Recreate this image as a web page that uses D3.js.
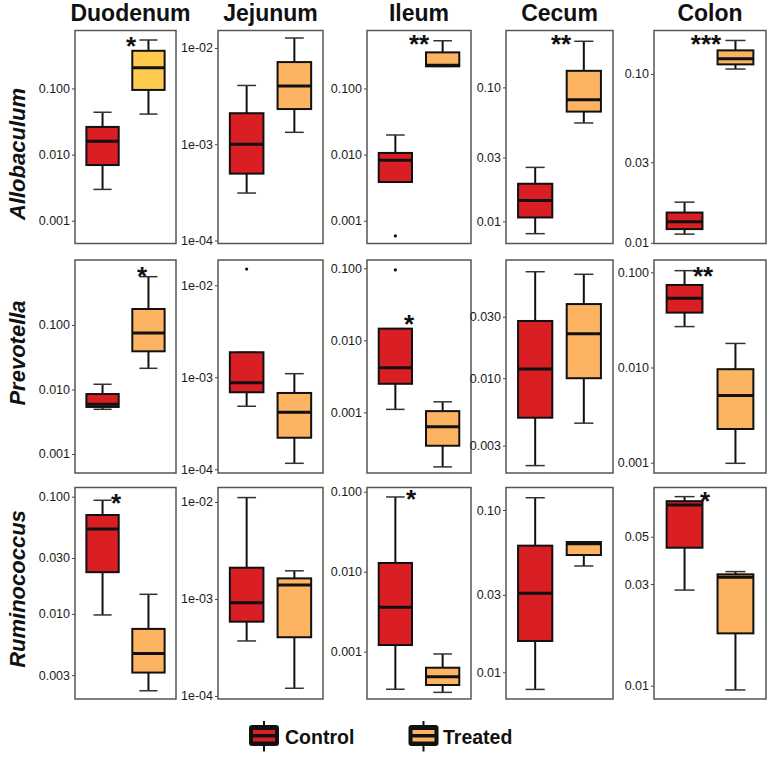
<!DOCTYPE html>
<html><head><meta charset="utf-8">
<script src="https://cdn.jsdelivr.net/npm/d3@7"></script>
<style>body{margin:0;background:#fff}svg{display:block}</style>
</head><body><svg id="c" width="773" height="757"></svg>
<script>
// ---------- DATA ----------
const regions = ["Duodenum", "Jejunum", "Ileum", "Cecum", "Colon"];
const genera = ["Allobaculum", "Prevotella", "Ruminococcus"];
const groups = ["Control", "Treated"];

// box stats per region: [lower whisker, Q1, median, Q3, upper whisker]
const allobaculumControl = [
  [0.00298, 0.00695, 0.0159, 0.0262, 0.0437],
  [0.000311, 0.000495, 0.001, 0.0021, 0.00408],
  [0.00385, 0.00385, 0.0082, 0.0106, 0.0198],
  [0.0081, 0.0107, 0.0143, 0.0191, 0.0253],
  [0.01125, 0.01205, 0.0133, 0.0151, 0.0174]
];
const allobaculumTreated = [
  [0.041, 0.095, 0.205, 0.371, 0.54],
  [0.00133, 0.00232, 0.00402, 0.00714, 0.0127],
  [0.216, 0.216, 0.225, 0.351, 0.526],
  [0.0543, 0.066, 0.0808, 0.133, 0.221],
  [0.107, 0.114, 0.123, 0.138, 0.158]
];
const prevotellaControl = [
  [0.00493, 0.00536, 0.0059, 0.0085, 0.01205],
  [0.000484, 0.000687, 0.000873, 0.00187, 0.00187],
  [0.0011, 0.00249, 0.00416, 0.0145, 0.0145],
  [0.0021, 0.00494, 0.0118, 0.0278, 0.067],
  [0.0269, 0.0377, 0.0533, 0.0736, 0.104]
];
const prevotellaTreated = [
  [0.0213, 0.0391, 0.0752, 0.177, 0.561],
  [0.000116, 0.00022, 0.000417, 0.000675, 0.001094],
  [0.000175, 0.000344, 0.00063, 0.00104, 0.0014],
  [0.00448, 0.01, 0.0221, 0.0376, 0.064],
  [0.000986, 0.00226, 0.00508, 0.0096, 0.0179]
];
const ruminococcusControl = [
  [0.0098, 0.0227, 0.0531, 0.0698, 0.0932],
  [0.000369, 0.000583, 0.000916, 0.0021, 0.0111],
  [0.000339, 0.00121, 0.00359, 0.01285, 0.0859],
  [0.00785, 0.0156, 0.0307, 0.0603, 0.119],
  [0.0281, 0.0444, 0.0704, 0.0734, 0.0771]
];
const ruminococcusTreated = [
  [0.00221, 0.00316, 0.00459, 0.00745, 0.0147],
  [0.00012, 0.000403, 0.00139, 0.00163, 0.00195],
  [0.00031, 0.000383, 0.000487, 0.00063, 0.000936],
  [0.0452, 0.0528, 0.062, 0.0635, 0.0635],
  [0.00955, 0.0176, 0.0323, 0.0333, 0.0343]
];

// outliers: [genus, region, group, value]
const outliers = [
  ["Allobaculum", "Ileum", "Control", 0.00059],
  ["Prevotella", "Jejunum", "Control", 0.015],
  ["Prevotella", "Ileum", "Control", 0.0947]
];

// y-axis ranges (log) per region
const allobaculumRange = [[0.000453, 0.752], [9.3e-5, 0.0152], [0.000453, 0.752], [0.00684, 0.266], [0.0099, 0.181]];
const prevotellaRange = [[0.000507, 1.018], [9.1e-5, 0.01884], [0.000144, 0.130], [0.00184, 0.0826], [0.00078, 0.1346]];
const ruminococcusRange = [[0.00188, 0.1198], [9.3e-5, 0.0141], [0.000256, 0.1128], [0.00685, 0.1376], [0.00866, 0.0851]];

// tick values and labels
const allobaculumTicks = [[0.001, 0.01, 0.1], [1e-4, 1e-3, 1e-2], [0.001, 0.01, 0.1], [0.01, 0.03, 0.1], [0.01, 0.03, 0.1]];
const allobaculumTickLabels = [["0.001", "0.010", "0.100"], ["1e-04", "1e-03", "1e-02"], ["0.001", "0.010", "0.100"], ["0.01", "0.03", "0.10"], ["0.01", "0.03", "0.10"]];
const prevotellaTicks = [[0.001, 0.01, 0.1], [1e-4, 1e-3, 1e-2], [0.001, 0.01, 0.1], [0.003, 0.01, 0.03], [0.001, 0.01, 0.1]];
const prevotellaTickLabels = [["0.001", "0.010", "0.100"], ["1e-04", "1e-03", "1e-02"], ["0.001", "0.010", "0.100"], ["0.003", "0.010", "0.030"], ["0.001", "0.010", "0.100"]];
const ruminococcusTicks = [[0.003, 0.01, 0.03, 0.1], [1e-4, 1e-3, 1e-2], [0.001, 0.01, 0.1], [0.01, 0.03, 0.1], [0.01, 0.03, 0.05]];
const ruminococcusTickLabels = [["0.003", "0.010", "0.030", "0.100"], ["1e-04", "1e-03", "1e-02"], ["0.001", "0.010", "0.100"], ["0.01", "0.03", "0.10"], ["0.01", "0.03", "0.05"]];

// significance labels
const allobaculumSig = ["*", "", "**", "**", "***"];
const prevotellaSig = ["*", "", "*", "", "**"];
const ruminococcusSig = ["*", "", "*", "", "*"];

// ---------- LAYOUT ----------
const W = 773, H = 757;
const colX = [[75, 176], [218, 323], [367, 471], [506, 613], [654, 766]];
const rowY = [[30.5, 243.5], [260, 473], [487.5, 699]];
const rowLabelY = [154, 353, 589];
const starPos = [
  [[131, 40], null, [419, 38], [561, 38], [706, 38]],
  [[142, 270], null, [409, 318], null, [703, 270]],
  [[116, 497], null, [411, 493], null, [705, 495]]
];
const colorControl = "#D91E24";
const colorTreated = "#FDB462";
const colorTreatedGold = "#FECB4E";
const font = "'Liberation Sans', Arial, Helvetica, sans-serif";

const stats = [
  [allobaculumControl, allobaculumTreated],
  [prevotellaControl, prevotellaTreated],
  [ruminococcusControl, ruminococcusTreated]
];
const ranges = [allobaculumRange, prevotellaRange, ruminococcusRange];
const ticks = [allobaculumTicks, prevotellaTicks, ruminococcusTicks];
const tickLabels = [allobaculumTickLabels, prevotellaTickLabels, ruminococcusTickLabels];
const sigs = [allobaculumSig, prevotellaSig, ruminococcusSig];

const svg = d3.select("#c");
svg.append("rect").attr("width", W).attr("height", H).attr("fill", "#fff");

// column titles
regions.forEach((r, ci) => {
  svg.append("text")
    .attr("x", (colX[ci][0] + colX[ci][1]) / 2 + (ci === 0 ? 5 : 0))
    .attr("y", 20.5)
    .attr("text-anchor", "middle")
    .attr("font-family", font).attr("font-weight", "bold").attr("font-size", 23)
    .attr("fill", "#111").text(r);
});

// row labels
genera.forEach((g, ri) => {
  svg.append("text")
    .attr("transform", `translate(25,${rowLabelY[ri]}) rotate(-90)`)
    .attr("text-anchor", "middle")
    .attr("font-family", font).attr("font-weight", "bold").attr("font-style", "italic")
    .attr("font-size", 22).attr("fill", "#111").text(g);
});

genera.forEach((g, ri) => {
  regions.forEach((r, ci) => {
    const [x0, x1] = colX[ci];
    const [y0, y1] = rowY[ri];
    const y = d3.scaleLog().domain(ranges[ri][ci]).range([y1, y0]);
    const x = d3.scalePoint().domain(groups).range([x0, x1]).padding(0.6);
    const bw = (x1 - x0) * 0.32;
    const labs = tickLabels[ri][ci];

    const ax = d3.axisLeft(y)
      .tickValues(ticks[ri][ci])
      .tickFormat((d, i) => labs[i])
      .tickSize(3).tickPadding(2);
    const ga = svg.append("g").attr("transform", `translate(${x0},0)`).call(ax);
    ga.select(".domain").remove();
    ga.selectAll("text").attr("font-family", font).attr("font-size", 12.5).attr("fill", "#1a1a1a");
    ga.selectAll("line").attr("stroke", "#444").attr("stroke-width", 1);

    svg.append("rect")
      .attr("x", x0).attr("y", y0).attr("width", x1 - x0).attr("height", y1 - y0)
      .attr("fill", "none").attr("stroke", "#555").attr("stroke-width", 1.5);

    groups.forEach((grp, gi) => {
      const s = stats[ri][gi][ci];
      const cx = x(grp);
      const fill = gi === 0 ? colorControl : (ri === 0 && ci === 0 ? colorTreatedGold : colorTreated);
      const gg = svg.append("g");
      // whiskers
      gg.append("line").attr("x1", cx).attr("x2", cx).attr("y1", y(s[0])).attr("y2", y(s[1]))
        .attr("stroke", "#111").attr("stroke-width", 2);
      gg.append("line").attr("x1", cx).attr("x2", cx).attr("y1", y(s[3])).attr("y2", y(s[4]))
        .attr("stroke", "#111").attr("stroke-width", 2);
      // caps
      [s[0], s[4]].forEach(v => {
        gg.append("line").attr("x1", cx - bw * 0.28).attr("x2", cx + bw * 0.28)
          .attr("y1", y(v)).attr("y2", y(v))
          .attr("stroke", "#333").attr("stroke-width", 1.5);
      });
      // box
      gg.append("rect")
        .attr("x", cx - bw / 2).attr("width", bw)
        .attr("y", y(s[3])).attr("height", Math.max(1, y(s[1]) - y(s[3])))
        .attr("fill", fill).attr("stroke", "#111").attr("stroke-width", 2);
      // median
      gg.append("line").attr("x1", cx - bw / 2).attr("x2", cx + bw / 2)
        .attr("y1", y(s[2])).attr("y2", y(s[2]))
        .attr("stroke", "#111").attr("stroke-width", 3);
    });

    outliers.filter(o => o[0] === g && o[1] === r).forEach(o => {
      svg.append("circle").attr("cx", x(o[2])).attr("cy", y(o[3])).attr("r", 1.6).attr("fill", "#111");
    });

    const sg = sigs[ri][ci];
    const sp = starPos[ri][ci];
    if (sg && sp) {
      svg.append("text").attr("x", sp[0]).attr("y", sp[1] + 14.5)
        .attr("text-anchor", "middle")
        .attr("font-family", font).attr("font-weight", "bold").attr("font-size", 26)
        .attr("fill", "#111").text(sg);
    }
  });
});

// legend
const legendItems = [
  { label: groups[0], color: colorControl, x: 249, tx: 285 },
  { label: groups[1], color: colorTreated, x: 408.5, tx: 443 }
];
legendItems.forEach(it => {
  const lg = svg.append("g");
  const w = 30, top = 725, h = 21;
  lg.append("line").attr("x1", it.x + w / 2).attr("x2", it.x + w / 2).attr("y1", 721).attr("y2", 751.5)
    .attr("stroke", "#111").attr("stroke-width", 2);
  lg.append("rect").attr("x", it.x).attr("y", top).attr("width", w).attr("height", h)
    .attr("rx", 3).attr("fill", "#111");
  lg.append("rect").attr("x", it.x + 4).attr("y", top + 5).attr("width", w - 8).attr("height", 4).attr("fill", it.color);
  lg.append("rect").attr("x", it.x + 4).attr("y", top + 12.5).attr("width", w - 8).attr("height", 4).attr("fill", it.color);
  lg.append("text").attr("x", it.tx).attr("y", 743.5)
    .attr("font-family", font).attr("font-weight", "bold").attr("font-size", 19.5)
    .attr("fill", "#111").text(it.label);
});
</script></body></html>
